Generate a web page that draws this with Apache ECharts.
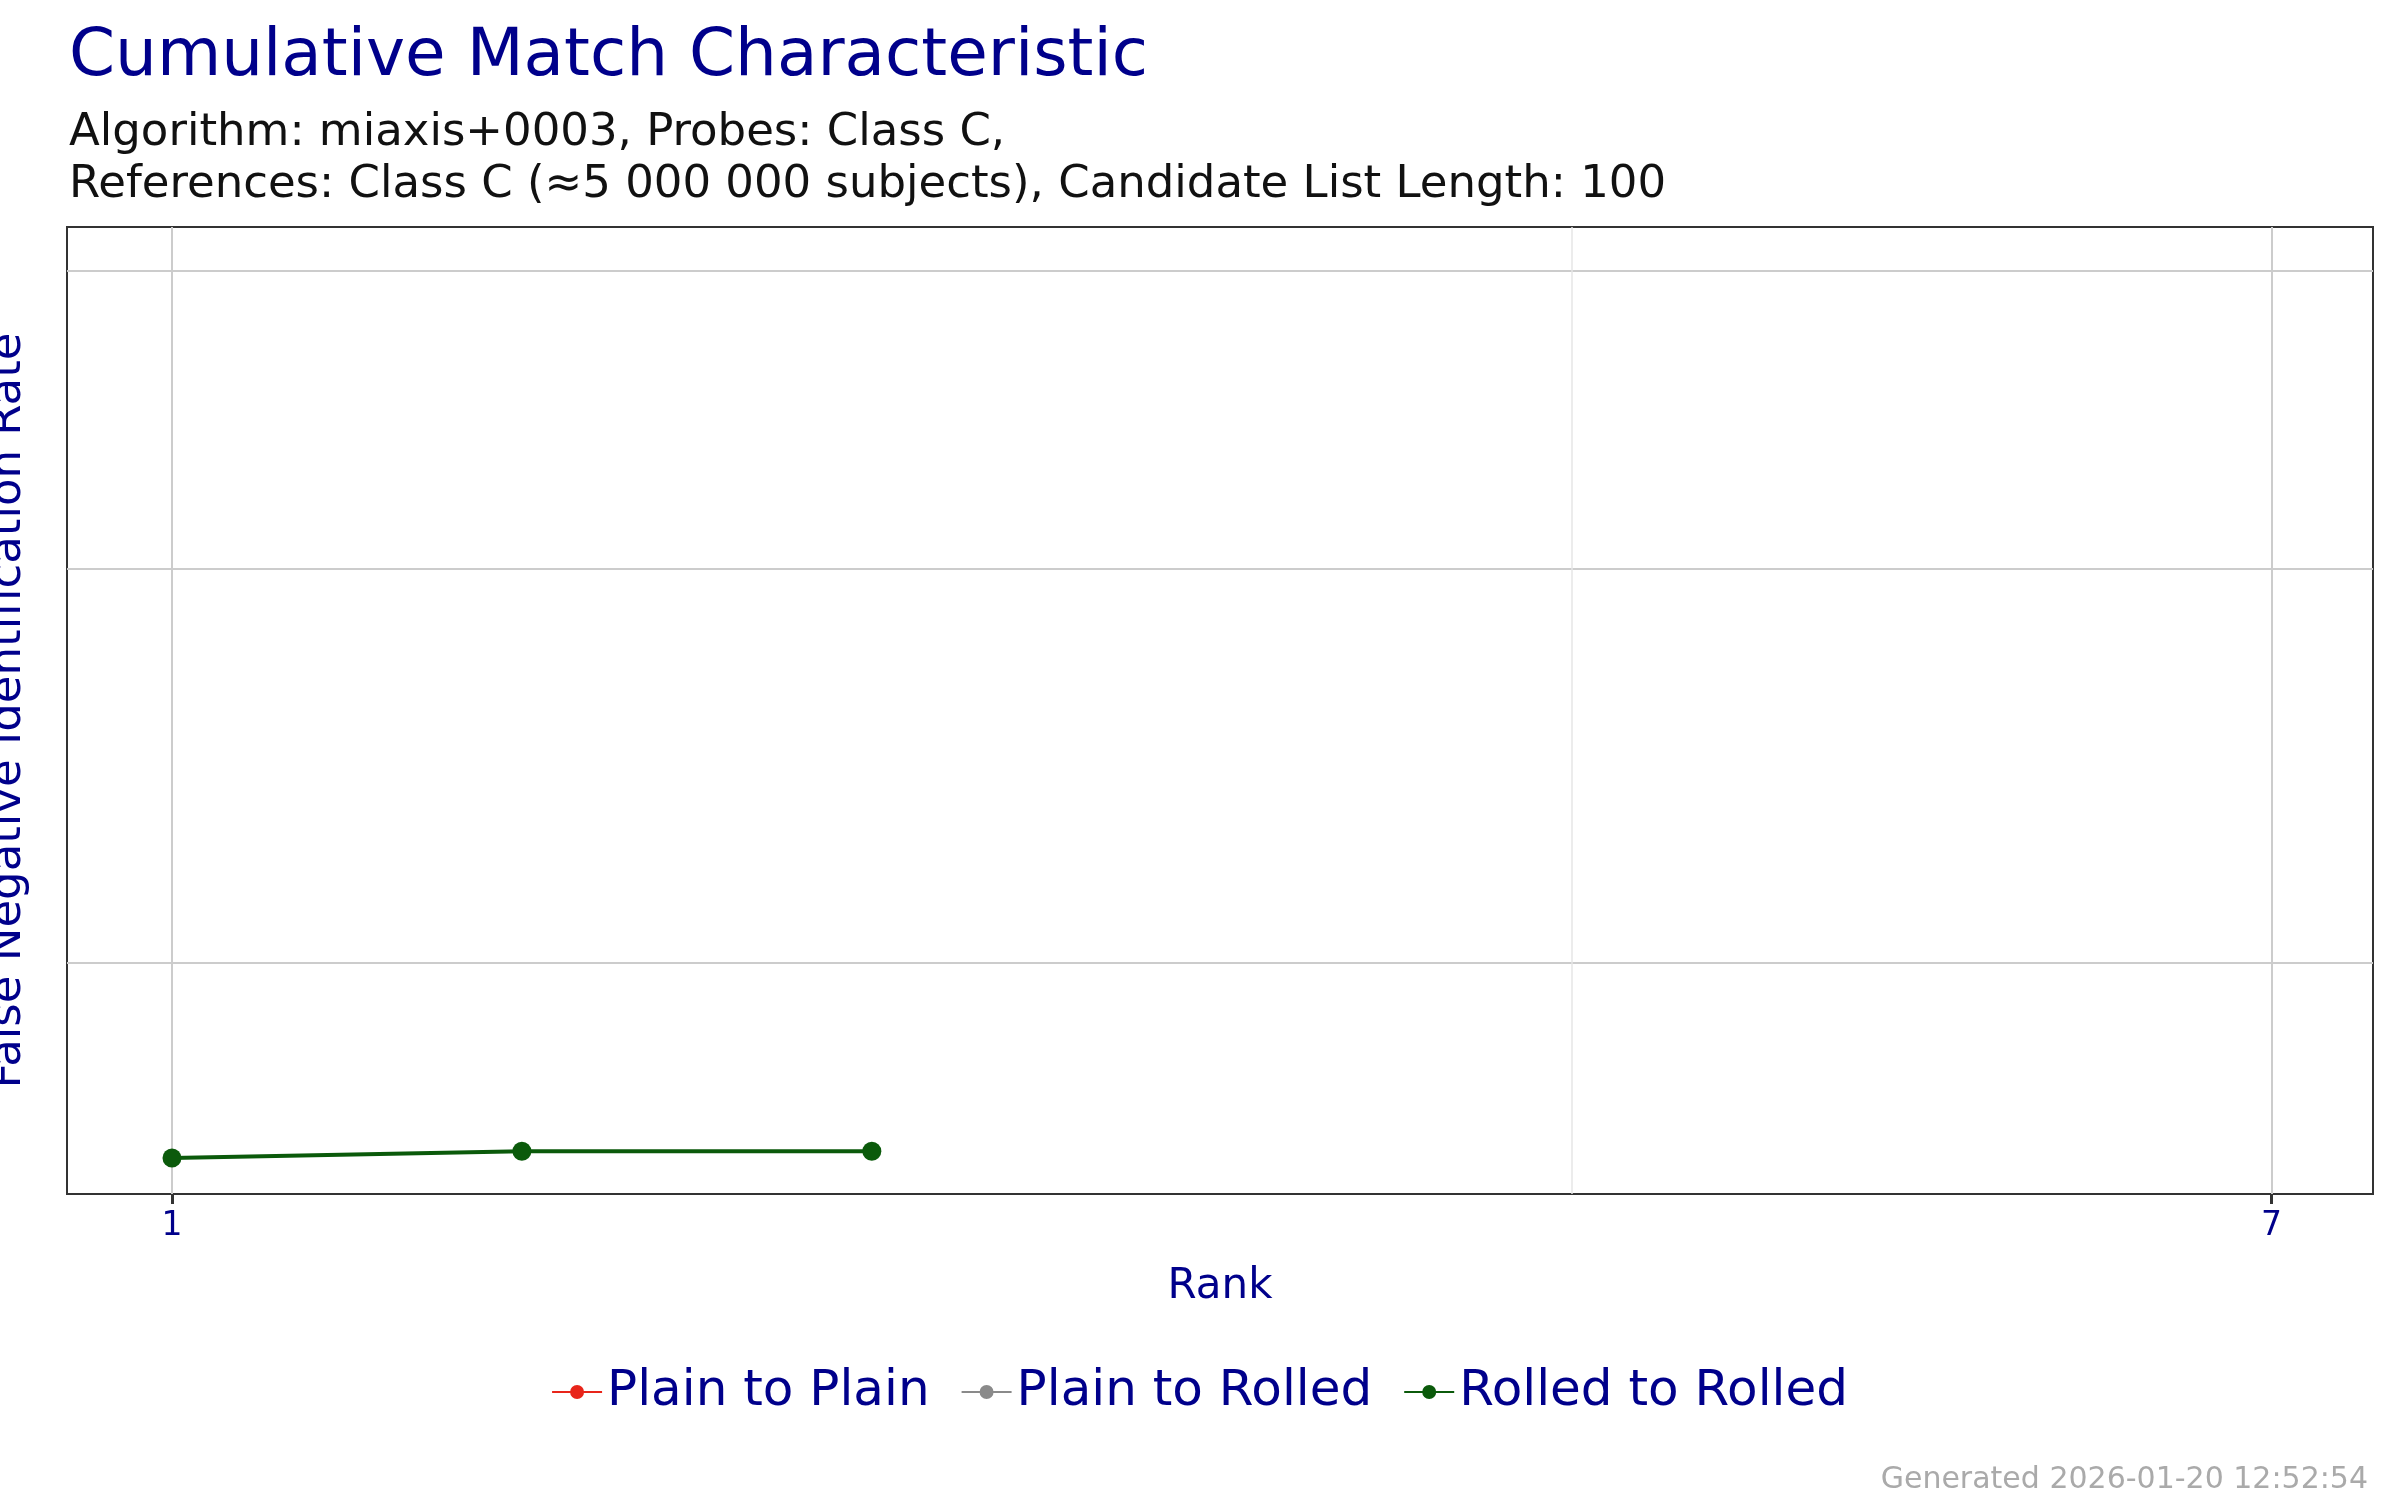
<!DOCTYPE html>
<html>
<head>
<meta charset="utf-8">
<script src="https://cdn.jsdelivr.net/npm/echarts@6/dist/echarts.min.js"></script>
<style>html,body{margin:0;padding:0;background:#fff}#chart{width:2400px;height:1500px}</style>
</head>
<body>
<div id="chart"></div>
<script>
var seriesNames = ["Plain to Plain", "Plain to Rolled", "Rolled to Rolled"];
var seriesColors = ["#e8251a", "#8a8a8a", "#0b5a0b"];
var plainToPlain = [];
var plainToRolled = [];
var rolledToRolled = [[1, 0.0127], [2, 0.0129], [3, 0.0129]];
var xTicks = [1, 7];
var xMinor = [5];
var yGrid = [0.02, 0.05, 0.1];

var font = "DejaVu Sans";
var navy = "#00008b";
var chart = echarts.init(document.getElementById("chart"));

var gridLines = [];
for (var i = 0; i < yGrid.length; i++) gridLines.push({yAxis: yGrid[i], lineStyle: {color: "#cccccc", width: 2, type: "solid"}});
for (var j = 0; j < xTicks.length; j++) gridLines.push({xAxis: xTicks[j], lineStyle: {color: "#cccccc", width: 2, type: "solid"}});
for (var k = 0; k < xMinor.length; k++) gridLines.push({xAxis: xMinor[k], lineStyle: {color: "#e6e6e6", width: 1.5, type: "solid"}});

function mk(name, data, color, withGrid) {
	var s = {
		name: name, type: "line", data: data, symbol: "circle", symbolSize: 19,
		itemStyle: {color: color}, lineStyle: {color: color, width: 4}, z: 5
	};
	if (withGrid) {
		s.markLine = {silent: true, symbol: "none", label: {show: false}, data: gridLines, z: 1};
	}
	return s;
}

chart.setOption({
	animation: false,
	title: [
		{text: "Cumulative Match Characteristic", left: 64, top: 20, textStyle: {fontFamily: font, fontSize: 66, fontWeight: "normal", color: navy}},
		{text: "Algorithm: miaxis+0003, Probes: Class C,\nReferences: Class C (≈5 000 000 subjects), Candidate List Length: 100",
			left: 64, top: 102, textStyle: {fontFamily: font, fontSize: 45, fontWeight: "normal", color: "#111", lineHeight: 52}},
		{text: "Generated 2026-01-20 12:52:54", right: 27, top: 1460, textStyle: {fontFamily: font, fontSize: 30, fontWeight: "normal", color: "#aaaaaa"}}
	],
	legend: {
		data: seriesNames, bottom: 78, left: "center", itemWidth: 50, itemHeight: 18, itemGap: 32,
		textStyle: {fontFamily: font, fontSize: 50, color: navy},
		icon: "path://M0,9 L50,9 L50,11 L0,11 Z M25,3 A7,7 0 1,1 25,17 A7,7 0 1,1 25,3 Z"
	},
	grid: {left: 67, right: 27, top: 227, bottom: 306, outerBoundsMode: "none", show: true, borderColor: "#333", borderWidth: 2, backgroundColor: "#fff"},
	xAxis: {
		type: "value", min: 0.70, max: 7.29, name: "Rank", nameLocation: "middle", nameGap: 72,
		nameTextStyle: {fontFamily: font, fontSize: 42, color: navy},
		splitLine: {show: false}, axisLine: {show: false},
		axisTick: {show: true, length: 10, lineStyle: {color: "#333", width: 3}, customValues: xTicks},
		axisLabel: {fontFamily: font, fontSize: 33, color: navy, margin: 16, customValues: xTicks}
	},
	yAxis: {
		type: "log", min: 0.01168, max: 0.1106, name: "False Negative Identification Rate", nameLocation: "middle", nameGap: 36,
		nameTextStyle: {fontFamily: font, fontSize: 45, color: navy},
		splitLine: {show: false}, axisLine: {show: false}, axisTick: {show: false}, axisLabel: {show: false}
	},
	series: [
		mk(seriesNames[0], plainToPlain, seriesColors[0], true),
		mk(seriesNames[1], plainToRolled, seriesColors[1], false),
		mk(seriesNames[2], rolledToRolled, seriesColors[2], false)
	]
});
</script>
</body>
</html>
